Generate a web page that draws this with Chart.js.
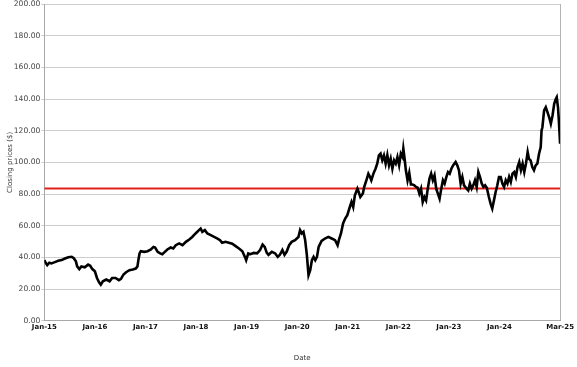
<!DOCTYPE html>
<html>
<head>
<meta charset="utf-8">
<script src="https://cdn.jsdelivr.net/npm/chart.js@4/dist/chart.umd.min.js"></script>
<style>
  html, body { margin: 0; padding: 0; background: #ffffff; }
  #wrap { width: 577px; height: 367px; }
</style>
</head>
<body>
<div id="wrap"><canvas id="c" width="577" height="367"></canvas></div>
<script>
// Months since Jan 2015 (sample positions)
const months = [
  0.0, 0.4, 0.7, 1.2, 1.7, 2.5, 3.3, 4.1, 4.9, 5.7, 6.5, 7.0, 7.5, 7.8, 8.3, 8.8, 9.6, 10.4, 10.9, 11.4,
  12.0, 12.5, 13.0, 13.4, 13.9, 14.7, 15.5, 16.1, 16.9, 17.7, 18.2, 18.8, 19.4, 20.2, 21.0, 21.7, 22.1, 22.4,
  22.6, 22.9, 23.7, 24.5, 25.3, 25.9, 26.3, 26.9, 27.5, 28.0, 28.6, 29.2, 30.0, 30.6, 31.2, 32.0, 32.8, 33.6,
  34.4, 35.1, 35.9, 36.7, 37.1, 37.5, 38.1, 38.7, 39.5, 40.3, 41.1, 41.7, 42.2, 43.0, 43.8, 44.6, 45.4, 46.2,
  47.0, 47.6, 47.9, 48.4, 48.9, 49.7, 50.5, 51.2, 51.8, 52.3, 52.8, 53.2, 54.0, 54.8, 55.4, 55.9, 56.5, 57.0,
  57.5, 58.1, 58.7, 59.5, 60.3, 60.7, 61.1, 61.5, 61.9, 62.3, 62.7, 63.1, 63.5, 63.9, 64.3, 64.7, 65.1, 65.8,
  66.6, 67.4, 68.2, 69.0, 69.6, 69.9, 70.4, 70.9, 71.4, 71.9, 72.5, 72.9, 73.3, 73.7, 74.3, 74.6, 75.0, 75.6,
  75.9, 76.3, 76.9, 77.3, 77.6, 78.1, 78.6, 79.0, 79.4, 79.8, 80.2, 80.6, 81.0, 81.4, 81.8, 82.2, 82.6, 83.0,
  83.4, 83.8, 84.2, 84.6, 85.0, 85.2, 85.5, 85.8, 86.2, 86.6, 87.0, 87.4, 87.8, 88.2, 88.6, 89.0, 89.4, 89.8,
  90.2, 90.6, 91.0, 91.4, 91.8, 92.2, 92.6, 93.0, 93.4, 93.8, 94.2, 94.6, 95.0, 95.4, 95.8, 96.2, 96.6, 97.0,
  97.6, 98.0, 98.4, 98.8, 99.2, 99.6, 100.2, 100.6, 101.0, 101.4, 101.8, 102.2, 102.6, 103.0, 103.4, 103.8,
  104.2, 104.6, 105.0, 105.5, 105.9, 106.3, 106.7, 107.1, 107.5, 107.9, 108.3, 108.7, 109.1, 109.5, 109.9,
  110.3, 110.7, 111.1, 111.5, 111.9, 112.3, 112.7, 113.1, 113.5, 113.9, 114.3, 114.7, 115.0, 115.4, 115.8,
  116.2, 116.6, 117.0, 117.4, 117.8, 118.0, 118.2, 118.6, 119.0, 119.4, 119.8, 120.2, 120.6, 121.0, 121.4,
  121.6, 121.9, 122.1, 122.4
];
// Closing prices ($)
const closes = [
  38.3, 36.2, 35.1, 36.6, 36.2, 37.0, 37.8, 38.3, 39.3, 40.1, 40.4, 39.5, 37.5, 34.3, 32.6, 34.3, 33.7, 35.4, 34.7, 32.6,
  31.2, 27.0, 24.2, 22.8, 24.9, 26.0, 24.9, 27.0, 27.0, 25.6, 26.4, 29.2, 30.6, 31.9, 32.3, 32.9, 34.3, 39.5,
  42.5, 43.9, 43.5, 43.9, 45.0, 46.6, 46.2, 43.5, 42.5, 42.0, 43.5, 45.0, 46.2, 45.6, 47.7, 48.8, 47.7, 49.8,
  51.3, 52.9, 55.1, 57.2, 58.2, 56.1, 57.2, 55.1, 54.0, 52.9, 51.9, 50.9, 49.2, 49.8, 49.2, 48.6, 47.1, 45.6,
  43.9, 40.3, 38.2, 42.5, 42.0, 42.8, 42.5, 44.6, 48.1, 46.6, 42.8, 41.6, 43.5, 42.5, 40.3, 41.6, 44.6, 41.6,
  43.5, 47.7, 49.8, 50.9, 52.9, 57.2, 55.1, 56.1, 50.9, 41.6, 28.8, 31.9, 38.2, 40.3, 38.2, 40.3, 46.6, 50.4,
  51.9, 52.9, 51.9, 50.9, 47.7, 50.9, 55.1, 61.4, 64.5, 66.6, 71.8, 75.0, 71.8, 79.2, 83.4, 81.3, 78.1, 80.3,
  84.4, 87.6, 92.9, 90.8, 88.7, 92.9, 96.0, 99.2, 104.4, 105.5, 101.3, 104.4, 99.2, 104.6, 98.2, 102.3, 96.0, 101.3,
  99.2, 103.4, 98.2, 105.5, 103.4, 108.6, 102.3, 95.0, 88.6, 93.4, 86.0, 86.0, 85.5, 84.5, 84.0, 80.3, 83.4, 75.0,
  78.1, 76.0, 83.4, 89.7, 92.9, 88.7, 91.8, 83.4, 80.3, 77.1, 83.4, 88.7, 86.6, 90.7, 93.9, 92.9, 96.0, 98.1,
  100.2, 98.1, 95.0, 86.6, 90.7, 85.5, 83.4, 82.3, 86.6, 83.4, 85.5, 88.7, 84.5, 93.9, 90.7, 86.6,
  84.5, 85.5, 84.0, 78.1, 74.0, 70.8, 76.0, 81.3, 85.5, 90.8, 90.8, 86.6, 84.4, 88.7, 86.6,
  90.8, 87.6, 92.9, 93.9, 90.8, 97.0, 100.2, 95.0, 99.2, 93.9, 99.2, 106.5, 102.3, 101.3, 97.0,
  95.0, 98.1, 99.2, 105.5, 109.6, 120.2, 122.2, 132.8, 134.8, 131.7, 128.5, 124.4, 129.6, 137.0, 140.1,
  141.1, 134.8, 126.5, 111.8
];
// Reference level (red line)
const referenceLevel = 83.5;
// X tick positions (months since Jan 2015) and labels
const tickMonths = [0, 12, 24, 36, 48, 60, 72, 84, 96, 108, 122.4];
const tickLabels = ["Jan-15", "Jan-16", "Jan-17", "Jan-18", "Jan-19", "Jan-20", "Jan-21", "Jan-22", "Jan-23", "Jan-24", "Mar-25"];
const yTicks = [0, 20, 40, 60, 80, 100, 120, 140, 160, 180, 200];

const priceData = months.map((m, i) => ({ x: m, y: closes[i] }));
const xMin = tickMonths[0], xMax = tickMonths[tickMonths.length - 1];
const refData = [{ x: xMin, y: referenceLevel }, { x: xMax, y: referenceLevel }];

new Chart(document.getElementById('c'), {
  type: 'line',
  data: {
    datasets: [
      { data: priceData, borderColor: '#000000', borderWidth: 2.6, pointRadius: 0, tension: 0, fill: false, borderJoinStyle: 'miter' },
      { data: refData, borderColor: '#e4201a', borderWidth: 2, pointRadius: 0, tension: 0, fill: false }
    ]
  },
  options: {
    responsive: false,
    animation: false,
    devicePixelRatio: 1,
    layout: { padding: { top: 3.3, right: 13.7, left: 0, bottom: 0 } },
    plugins: { legend: { display: false }, tooltip: { enabled: false } },
    scales: {
      x: {
        type: 'linear',
        min: xMin, max: xMax,
        afterBuildTicks: (s) => { s.ticks = tickMonths.map(v => ({ value: v })); },
        afterFit: (s) => { s.height = 46.3; },
        grid: {
          color: (ctx) => (ctx.index === tickMonths.length - 1 ? '#b4b4b4' : 'rgba(0,0,0,0)'),
          drawTicks: false
        },
        border: { color: '#a8a8a8', width: 1 },
        ticks: {
          autoSkip: false, maxRotation: 0, padding: 3,
          color: '#111111',
          font: { family: 'DejaVu Sans', size: 7, weight: 'bold', lineHeight: 1 },
          callback: (v, i) => tickLabels[i]
        },
        title: {
          display: true, text: 'Date', color: '#333333',
          font: { family: 'DejaVu Sans', size: 7, lineHeight: 1.2 },
          padding: { top: 0, bottom: 5 }
        }
      },
      y: {
        min: 0, max: 200,
        afterBuildTicks: (s) => { s.ticks = yTicks.map(v => ({ value: v })); },
        afterFit: (s) => { s.width = 44.3; },
        grid: { color: '#cdcdcd', lineWidth: 1, tickLength: 3, drawTicks: true },
        border: { color: '#a8a8a8', width: 1 },
        ticks: {
          padding: 1, color: '#444444',
          font: { family: 'DejaVu Sans', size: 7.6, lineHeight: 0.8 },
          callback: (v) => Number(v).toFixed(2)
        },
        title: {
          display: true, text: 'Closing prices ($)', color: '#333333',
          font: { family: 'DejaVu Sans', size: 7, lineHeight: 1.2 },
          padding: { top: 6, bottom: 0 }
        }
      }
    }
  }
});
</script>
</body>
</html>
